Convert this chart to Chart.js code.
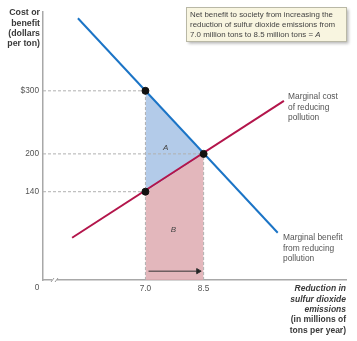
<!DOCTYPE html>
<html>
<head>
<meta charset="utf-8">
<script src="https://cdn.jsdelivr.net/npm/chart.js@4.4.1/dist/chart.umd.min.js"></script>
<style>
  html, body { margin: 0; padding: 0; background: #fff; }
  #wrap { width: 357px; height: 341px; }
</style>
</head>
<body>
<div id="wrap"><canvas id="myChart"></canvas></div>
<script>
// Curvas
const benefitX = [5.26, 10.41];
const benefitY = [415, 75];
const costX = [5.11, 10.57];
const costY = [67, 284];

// Pontos de interesse
const keyX = [7.0, 7.0, 8.5];
const keyY = [300, 140, 200];

// Ticks
const yTicks = [140, 200, 300];
const yTickLabels = ["140", "200", "$300"];
const xTicks = [7.0, 8.5];
const xTickLabels = ["7.0", "8.5"];

const xMin = 4.36;
const xMax = 12.17;

const pts = (xs, ys) => xs.map((x, i) => ({ x: x, y: ys[i] }));

const blue = "#1b74c6";
const red = "#b3154b";
const guide = "#b0b0b0";
const fam = "'Liberation Sans', Arial, sans-serif";

const data = {
  datasets: [
    // área A (entre custo e benefício)
    {
      label: "A",
      data: [{ x: keyX[0], y: keyY[0] }, { x: keyX[2], y: keyY[2] }],
      borderWidth: 0,
      pointRadius: 0,
      backgroundColor: "rgba(160,190,228,0.8)",
      fill: 1,
      order: 5
    },
    // área B (abaixo do custo)
    {
      label: "B",
      data: [{ x: keyX[1], y: keyY[1] }, { x: keyX[2], y: keyY[2] }],
      borderWidth: 0,
      pointRadius: 0,
      backgroundColor: "rgba(222,170,176,0.85)",
      fill: "origin",
      order: 6
    },
    // guias tracejadas
    {
      data: [{ x: xMin, y: keyY[0] }, { x: keyX[0], y: keyY[0] }],
      borderColor: guide, borderWidth: 1, borderDash: [3, 2], pointRadius: 0, order: 4
    },
    {
      data: [{ x: xMin, y: keyY[2] }, { x: keyX[2], y: keyY[2] }],
      borderColor: guide, borderWidth: 1, borderDash: [3, 2], pointRadius: 0, order: 4
    },
    {
      data: [{ x: xMin, y: keyY[1] }, { x: keyX[1], y: keyY[1] }],
      borderColor: guide, borderWidth: 1, borderDash: [3, 2], pointRadius: 0, order: 4
    },
    {
      data: [{ x: keyX[0], y: 0 }, { x: keyX[0], y: keyY[0] }],
      borderColor: guide, borderWidth: 1, borderDash: [3, 2], pointRadius: 0, order: 4
    },
    {
      data: [{ x: keyX[2], y: 0 }, { x: keyX[2], y: keyY[2] }],
      borderColor: guide, borderWidth: 1, borderDash: [3, 2], pointRadius: 0, order: 4
    },
    // benefício marginal
    {
      label: "Marginal benefit",
      data: pts(benefitX, benefitY),
      borderColor: blue, borderWidth: 2, pointRadius: 0, order: 2
    },
    // custo marginal
    {
      label: "Marginal cost",
      data: pts(costX, costY),
      borderColor: red, borderWidth: 2, pointRadius: 0, order: 2
    },
    // seta
    {
      data: [{ x: 7.08, y: 14 }, { x: 8.36, y: 14 }],
      borderColor: "#333", borderWidth: 1, backgroundColor: "#222",
      pointStyle: "triangle", pointRotation: [0, 90], pointRadius: [0, 3],
      order: 1
    },
    // pontos
    {
      data: pts(keyX, keyY),
      showLine: false,
      pointRadius: 3.5,
      pointBackgroundColor: "#111",
      pointBorderColor: "#111",
      order: 0
    }
  ]
};

const extras = {
  id: "extras",
  afterDraw(chart) {
    const ctx = chart.ctx;
    const xs = chart.scales.x, ys = chart.scales.y;
    const area = chart.chartArea;
    ctx.save();

    // quebra do eixo
    ctx.fillStyle = "#fff";
    ctx.fillRect(area.left + 9, area.bottom - 2, 5, 4);
    ctx.strokeStyle = "#999";
    ctx.lineWidth = 1;
    ctx.beginPath();
    ctx.moveTo(area.left + 8, area.bottom + 2); ctx.lineTo(area.left + 11, area.bottom - 2);
    ctx.moveTo(area.left + 12, area.bottom + 2); ctx.lineTo(area.left + 15, area.bottom - 2);
    ctx.stroke();

    ctx.fillStyle = "#555";
    ctx.font = "8.3px " + fam;
    ctx.textAlign = "center";
    ctx.textBaseline = "middle";
    ctx.fillText("0", area.left - 6, 288);

    // rótulos A e B
    ctx.font = "italic 8px " + fam;
    ctx.fillStyle = "#444";
    ctx.fillText("A", xs.getPixelForValue(7.52), ys.getPixelForValue(210));
    ctx.fillText("B", xs.getPixelForValue(7.72), ys.getPixelForValue(80));

    // rótulos das curvas
    ctx.font = "8.4px " + fam;
    ctx.fillStyle = "#555";
    ctx.textAlign = "left";
    ["Marginal cost", "of reducing", "pollution"].forEach((t, i) => ctx.fillText(t, 288, 97 + i * 10.5));
    ["Marginal benefit", "from reducing", "pollution"].forEach((t, i) => ctx.fillText(t, 283, 238 + i * 10.5));

    // título do eixo y
    ctx.font = "bold 8.8px " + fam;
    ctx.fillStyle = "#3a3a3a";
    ctx.textAlign = "right";
    ["Cost or", "benefit", "(dollars", "per ton)"].forEach((t, i) => ctx.fillText(t, 40, 13 + i * 10.3));

    // título do eixo x
    ctx.font = "italic bold 8.5px " + fam;
    ["Reduction in", "sulfur dioxide", "emissions"].forEach((t, i) => ctx.fillText(t, 346, 289 + i * 10.4));
    ctx.font = "bold 8.5px " + fam;
    ["(in millions of", "tons per year)"].forEach((t, i) => ctx.fillText(t, 346, 320 + i * 10.4));

    // caixa de texto
    ctx.shadowColor = "rgba(0,0,0,0.3)";
    ctx.shadowBlur = 3;
    ctx.shadowOffsetX = 1.5;
    ctx.shadowOffsetY = 1.5;
    ctx.fillStyle = "#f8f5e0";
    ctx.fillRect(186, 7, 161, 35);
    ctx.shadowColor = "transparent";
    ctx.strokeStyle = "#b9b8a6";
    ctx.lineWidth = 1;
    ctx.strokeRect(186.5, 7.5, 160, 34);
    ctx.fillStyle = "#444";
    ctx.textAlign = "left";
    ctx.font = "7.9px " + fam;
    ctx.fillText("Net benefit to society from increasing the", 190, 14.5);
    ctx.fillText("reduction of sulfur dioxide emissions from", 190, 24.5);
    const l3 = "7.0 million tons to 8.5 million tons = ";
    ctx.fillText(l3, 190, 34.5);
    const w = ctx.measureText(l3).width;
    ctx.font = "italic 7.9px " + fam;
    ctx.fillText("A", 190 + w, 34.5);

    ctx.restore();
  }
};

const config = {
  type: "line",
  data: data,
  options: {
    responsive: true,
    maintainAspectRatio: false,
    animation: false,
    layout: { padding: { top: 12, right: 11, left: 0, bottom: 0 } },
    plugins: {
      legend: { display: false },
      tooltip: { enabled: false },
      filler: { propagate: false }
    },
    scales: {
      x: {
        type: "linear",
        min: xMin,
        max: xMax,
        grid: { display: false, drawTicks: false },
        border: { color: "#a8a8a8", width: 1.5 },
        afterBuildTicks: (scale) => { scale.ticks = xTicks.map(v => ({ value: v })); },
        afterFit: (scale) => { scale.height = 61; },
        ticks: {
          padding: 4,
          color: "#555",
          font: { family: fam, size: 8.3 },
          autoSkip: false,
          maxRotation: 0,
          callback: (v) => xTickLabels[xTicks.indexOf(v)]
        }
      },
      y: {
        type: "linear",
        min: 0,
        max: 425,
        grid: { display: false, drawTicks: false },
        border: { color: "#a8a8a8", width: 1.5 },
        afterBuildTicks: (scale) => { scale.ticks = yTicks.map(v => ({ value: v })); },
        afterFit: (scale) => { scale.width = 43; },
        ticks: {
          padding: 4,
          color: "#555",
          font: { family: fam, size: 8.3 },
          autoSkip: false,
          callback: (v) => yTickLabels[yTicks.indexOf(v)]
        }
      }
    }
  },
  plugins: [extras]
};

const myChart = new Chart(document.getElementById("myChart"), config);
</script>
</body>
</html>
